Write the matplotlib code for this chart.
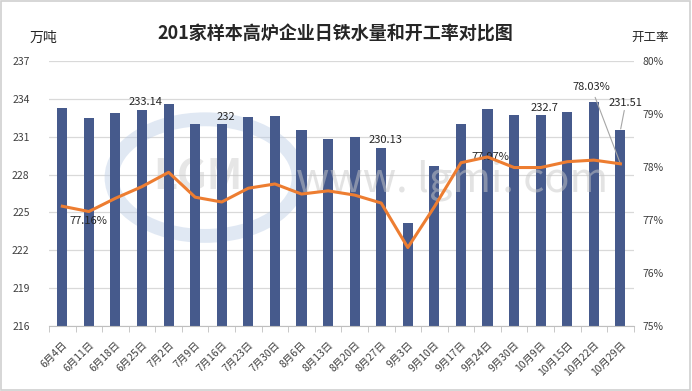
import matplotlib.pyplot as plt
from matplotlib.patches import Ellipse, Rectangle
from matplotlib.ticker import FixedLocator, FuncFormatter

plt.rcParams["font.family"] = ["Noto Sans CJK SC", "DejaVu Sans"]

dates = ["6月4日", "6月11日", "6月18日", "6月25日", "7月2日", "7月9日", "7月16日",
         "7月23日", "7月30日", "8月6日", "8月13日", "8月20日", "8月27日", "9月3日",
         "9月10日", "9月17日", "9月24日", "9月30日", "10月9日", "10月15日",
         "10月22日", "10月29日"]
iron_output = [233.25, 232.47, 232.86, 233.14, 233.63, 231.97, 232.00, 232.55,
               232.63, 231.57, 230.80, 230.94, 230.13, 224.13, 228.67, 231.97,
               233.16, 232.70, 232.70, 232.92, 233.76, 231.51]
run_rate = [77.26, 77.16, 77.41, 77.63, 77.90, 77.43, 77.34, 77.60, 77.68, 77.49,
            77.55, 77.47, 77.32, 76.48, 77.25, 78.08, 78.19, 77.99, 77.99, 78.10,
            78.13, 78.06]
# labelled points: (index, text)
bar_labels = [(3, "233.14"), (6, "232"), (12, "230.13"), (18, "232.7"), (21, "231.51")]
line_labels = [(1, "77.16%"), (16, "77.97%"), (21, "78.03%")]

bar_color = "#465A8C"
line_color = "#ED7D31"
grid_color = "#D9D9D9"
text_color = "#262626"

fig = plt.figure(figsize=(6.92, 3.91), dpi=100)
fig.patches.append(Rectangle((0.002, 0.003), 0.995, 0.994, transform=fig.transFigure,
                             fill=False, edgecolor="#D0D0D0", lw=1.2))

ax = fig.add_axes([0.0708, 0.1662, 0.845, 0.6778])
x = range(len(dates))
ax.bar(x, iron_output, width=0.38, color=bar_color, zorder=2)
ax.set_ylim(216, 237)
ax.set_xlim(-0.5, len(dates) - 0.5)
ax.set_yticks(range(216, 238, 3))
ax.yaxis.grid(True, color=grid_color, lw=0.9, zorder=0)
ax.set_axisbelow(True)
for side in ["left", "right", "top"]:
    ax.spines[side].set_visible(False)
ax.spines["bottom"].set_color("#BFBFBF")
ax.tick_params(axis="y", length=0, labelsize=7.5, pad=14, colors="#404040")
ax.set_xticks(list(x))
ax.set_xticklabels(dates, rotation=45, ha="right", rotation_mode="anchor",
                   fontsize=7.5, color="#404040")
ax.tick_params(axis="x", length=0, pad=10)
ax.xaxis.set_minor_locator(FixedLocator([i - 0.5 for i in range(len(dates) + 1)]))
ax.tick_params(axis="x", which="minor", length=4, color="#BFBFBF")

# watermark
ax.add_patch(Ellipse((0.267, 0.56), 0.32, 0.44, transform=ax.transAxes, fill=False,
                     edgecolor="#BCCDE6", lw=10, alpha=0.45, zorder=1))
ax.text(0.267, 0.56, "LGMI", transform=ax.transAxes, ha="center", va="center",
        fontsize=30, color="#C8C8C8", alpha=0.45, fontweight="bold", zorder=1)
ax.text(0.69, 0.55, "www. lgmi. com", transform=ax.transAxes, ha="center", va="center",
        fontsize=30, color="#C8C8C8", alpha=0.5, zorder=3, fontstretch="condensed")

ax2 = ax.twinx()
ax2.plot(x, run_rate, color=line_color, lw=2.2, zorder=4, solid_joinstyle="round")
ax2.set_ylim(75, 80)
ax2.set_yticks(range(75, 81))
ax2.yaxis.set_major_formatter(FuncFormatter(lambda v, p: f"{v:.0f}%"))
for side in ["left", "right", "top", "bottom"]:
    ax2.spines[side].set_visible(False)
ax2.tick_params(axis="y", length=0, labelsize=7.5, pad=6, colors="#404040")

for i, txt in bar_labels:
    if i == len(dates) - 1:
        ax.annotate(txt, (i, iron_output[i]), xytext=(i + 0.2, 233.3), fontsize=8,
                    ha="center", va="bottom", color=text_color,
                    arrowprops=dict(arrowstyle="-", color="#A6A6A6", lw=0.8,
                                    shrinkA=0, shrinkB=1))
    else:
        ax.text(i + 0.15, iron_output[i] + 0.2, txt, fontsize=8, ha="center",
                va="bottom", color=text_color)

for i, txt in line_labels:
    if i == len(dates) - 1:
        ax2.annotate(txt, (i, run_rate[i]), xytext=(i - 1.1, 79.51), fontsize=8,
                     ha="center", va="center", color=text_color,
                     arrowprops=dict(arrowstyle="-", color="#A6A6A6", lw=0.8,
                                     shrinkA=2, shrinkB=1))
    elif i == 1:
        ax2.text(i, run_rate[i] - 0.08, txt, fontsize=8, ha="center", va="top",
                 color=text_color)
    else:
        ax2.text(i + 0.1, run_rate[i], txt, fontsize=8, ha="center",
                 va="center", color=text_color)

fig.text(0.485, 0.913, "201家样本高炉企业日铁水量和开工率对比图", ha="center",
         va="center", fontsize=13, fontweight="bold", color=text_color)
fig.text(0.063, 0.903, "万吨", ha="center", va="center", fontsize=10, color=text_color)
fig.text(0.94, 0.903, "开工率", ha="center", va="center", fontsize=9, color=text_color)

fig.savefig("out.png", dpi=100)
